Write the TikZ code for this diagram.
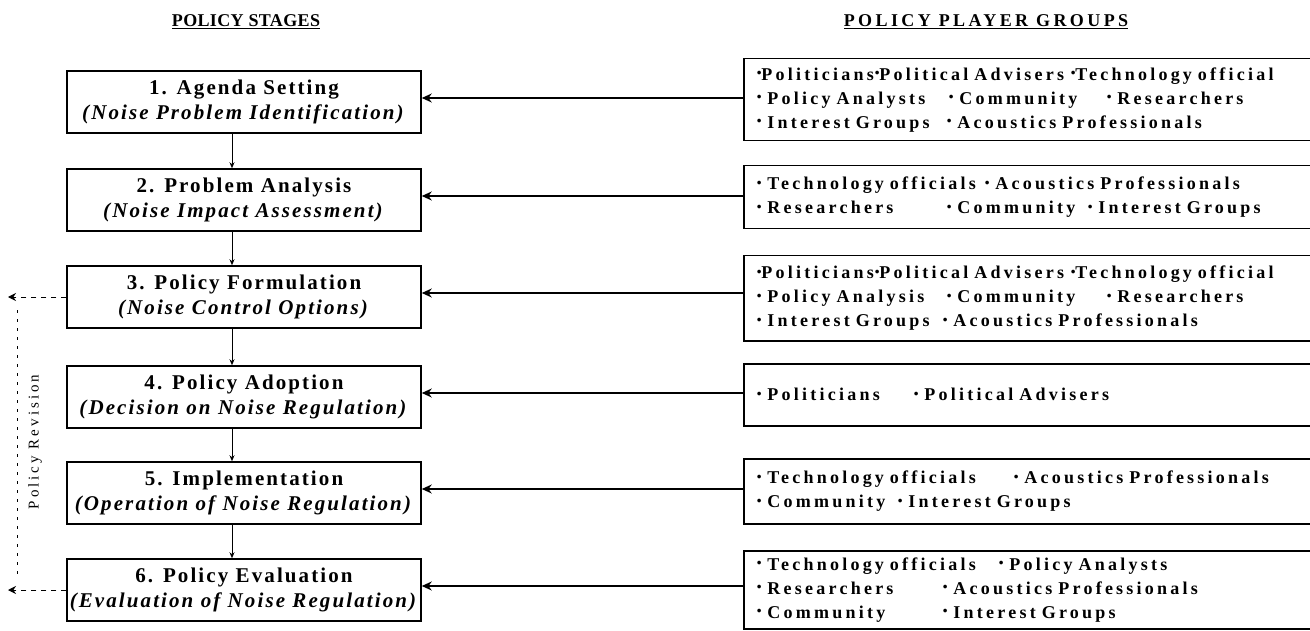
\documentclass[tikz,border=0pt]{standalone}
\usepackage{fontspec}
\setmainfont{Liberation Serif}
\usetikzlibrary{arrows.meta}
\newfontfamily\stgfont[LetterSpace=10]{Liberation Serif}
\newfontfamily\grpfont[LetterSpace=18]{Liberation Serif}
\newfontfamily\ttlafont[LetterSpace=2]{Liberation Serif}
\newfontfamily\ttlbfont[LetterSpace=19]{Liberation Serif}
\newfontfamily\revfont[LetterSpace=20]{Liberation Serif}
\newcommand{\bul}{\raisebox{0.3ex}{\scalebox{0.75}{\textbullet}}}
\newcommand{\itm}[2]{\makebox[#1pt][l]{\bul\ #2}}
\newcommand{\itt}[2]{\makebox[#1pt][l]{\bul #2}}
\begin{document}
\begin{tikzpicture}[x=1pt,y=-1pt,
  stagebox/.style={draw, line width=1.5pt, minimum width=354pt, minimum height=62pt,
    inner sep=0pt, align=center, font=\stgfont\fontsize{21}{25}\selectfont\bfseries},
  grpbox/.style={draw, line width=1.5pt, minimum width=620pt, anchor=north west,
    inner xsep=13pt, inner ysep=0pt, align=left, text width=594pt,
    font=\grpfont\fontsize{18}{24}\selectfont\bfseries},
  harr/.style={line width=1.3pt, -{Stealth[length=10pt,width=9pt]}},
  varr/.style={line width=0.9pt, -{Stealth[length=6pt,width=5pt]}},
  rev/.style={line width=0.9pt, dashed, dash pattern=on 5pt off 5pt},
  revtip/.style={rev, -{Stealth[length=8pt,width=8pt]}}]
\useasboundingbox (0,0) rectangle (1310,631);
\clip (0,0) rectangle (1310,631);

% titles
\node[font=\ttlafont\fontsize{18}{20}\selectfont\bfseries] (t1) at (246,22) {\underline{POLICY STAGES}};
\node[font=\ttlbfont\fontsize{18}{20}\selectfont\bfseries] (t2) at (986,22) {\underline{POLICY PLAYER GROUPS}};

% stages
\node[stagebox] (l1) at (244,102) {1. Agenda Setting\\\textit{(Noise Problem Identification)}};
\node[stagebox] (l2) at (244,200) {2. Problem Analysis\\\textit{(Noise Impact Assessment)}};
\node[stagebox] (l3) at (244,297) {3. Policy Formulation\\\textit{(Noise Control Options)}};
\node[stagebox] (l4) at (244,397) {4. Policy Adoption\\\textit{(Decision on Noise Regulation)}};
\node[stagebox] (l5) at (244,493) {5. Implementation\\\textit{(Operation of Noise Regulation)}};
\node[stagebox] (l6) at (244,590) {6. Policy Evaluation\\\textit{(Evaluation of Noise Regulation)}};

% player groups
\node[grpbox, minimum height=82pt] (r1) at (743,58)
  {\itt{118}{Politicians}\itt{196}{Political Advisers}\bul Technology official\\
   \itm{192}{Policy Analysts}\itm{158}{Community}\bul\ Researchers\\
   \itm{190}{Interest Groups}\bul\ Acoustics Professionals};
\node[grpbox, minimum height=63pt] (r2) at (743,165)
  {\itm{228}{Technology officials}\bul\ Acoustics Professionals\\
   \itm{190}{Researchers}\itm{141}{Community}\bul\ Interest Groups};
\node[grpbox, minimum height=85pt] (r3) at (743,255)
  {\itt{118}{Politicians}\itt{196}{Political Advisers}\bul Technology official\\
   \itm{190}{Policy Analysis}\itm{160}{Community}\bul\ Researchers\\
   \itm{186}{Interest Groups}\bul\ Acoustics Professionals};
\node[grpbox, minimum height=62pt] (r4) at (743,363)
  {\itm{157}{Politicians}\bul\ Political Advisers};
\node[grpbox, minimum height=65pt] (r5) at (743,458)
  {\itm{257}{Technology officials}\bul\ Acoustics Professionals\\
   \itm{141}{Community}\bul\ Interest Groups};
\node[grpbox, minimum height=78pt] (r6) at (743,550)
  {\itm{242}{Technology officials}\bul\ Policy Analysts\\
   \itm{186}{Researchers}\bul\ Acoustics Professionals\\
   \itm{186}{Community}\bul\ Interest Groups};

% connectors players -> stages
\foreach \i in {1,...,6}{
  \draw[harr] ([yshift=4pt]l\i.east -| r\i.west) -- ([yshift=4pt]l\i.east);
}
% stage sequence
\foreach \i/\j in {1/2,2/3,3/4,4/5,5/6}{
  \draw[varr] ([xshift=-12pt]l\i.south) -- ([xshift=-12pt]l\j.north);
}

% policy revision
\coordinate (rvx) at (8,0);
\coordinate (rvt) at (17,310);
\coordinate (rvb) at (17,574);
\draw[revtip] (l3.west) -- (l3.west -| rvx);
\draw[revtip] (l6.west) -- (l6.west -| rvx);
\draw[rev, dash pattern=on 3pt off 6pt] (rvt) -- (rvb);
\node[rotate=90, font=\revfont\fontsize{15}{17}\selectfont] (prv) at (35,442) {Policy Revision};
\end{tikzpicture}
\end{document}
